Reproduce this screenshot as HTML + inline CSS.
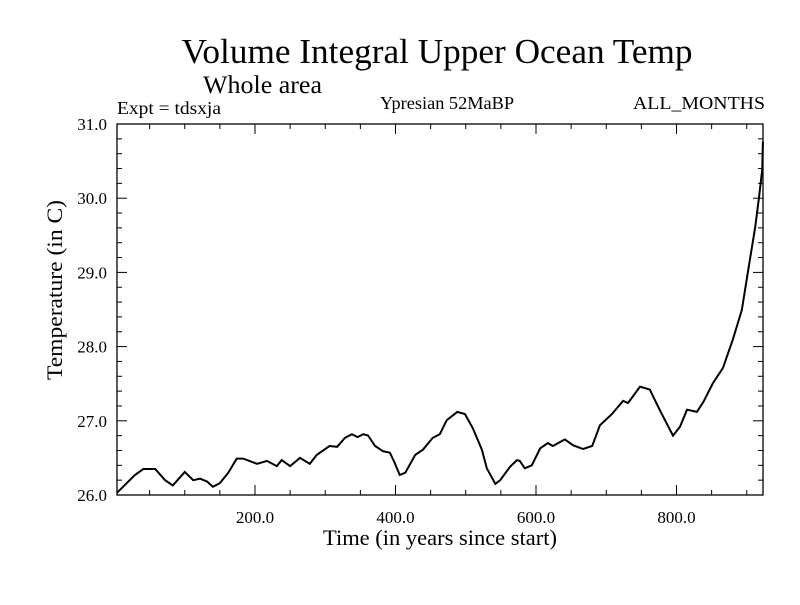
<!DOCTYPE html>
<html><head><meta charset="utf-8"><style>
html,body{margin:0;padding:0;background:#fff;}
svg text{font-family:"Liberation Serif",serif;fill:#000;}
</style></head><body>
<svg id="chart" width="800" height="600" xmlns="http://www.w3.org/2000/svg">
<text x="437" y="63" font-size="35" text-anchor="middle" textLength="511" lengthAdjust="spacingAndGlyphs">Volume Integral Upper Ocean Temp</text>
<text x="203" y="93" font-size="25" textLength="119" lengthAdjust="spacingAndGlyphs">Whole area</text>
<text x="117" y="114" font-size="18" textLength="104" lengthAdjust="spacingAndGlyphs">Expt = tdsxja</text>
<text x="380" y="109" font-size="18" textLength="134" lengthAdjust="spacingAndGlyphs">Ypresian  52MaBP</text>
<text x="633" y="109" font-size="18" textLength="132" lengthAdjust="spacingAndGlyphs">ALL_MONTHS</text>
<rect x="117" y="124" width="646" height="371" fill="none" stroke="#000" stroke-width="1.3"/>
<g id="ticks"></g>
<path id="line" fill="none" stroke="#000" stroke-width="2"/>
<text x="323" y="545" font-size="22" textLength="234" lengthAdjust="spacingAndGlyphs">Time (in years since start)</text>
<text transform="translate(62,380) rotate(-90)" font-size="22" textLength="180" lengthAdjust="spacingAndGlyphs">Temperature (in C)</text>
</svg>
<script>
const years=[3.6,29,41,58,72,83,100,112,122,132,140,150,162,174,183,203,217,231,238,250,264,278,288,306,317,328,338,346,354,361,371,382,392,399,406,414,428,439,453,463,473,488,499,510,523,530,537,542,549,563,573,577,584,594,606,617,624,641,653,667,680,691,708,724,731,748,762,776,795,805,815,829,838,852,866,880,893,902,912,917,922,923];
const temps=[26.03,26.27,26.35,26.35,26.20,26.13,26.31,26.20,26.22,26.18,26.11,26.16,26.30,26.49,26.49,26.42,26.46,26.39,26.47,26.39,26.50,26.42,26.54,26.66,26.65,26.77,26.82,26.78,26.82,26.80,26.66,26.59,26.57,26.43,26.27,26.30,26.54,26.61,26.77,26.82,27.01,27.12,27.09,26.90,26.61,26.36,26.24,26.15,26.20,26.38,26.47,26.46,26.36,26.40,26.63,26.70,26.66,26.75,26.67,26.62,26.66,26.94,27.09,27.27,27.24,27.46,27.42,27.15,26.80,26.92,27.15,27.12,27.25,27.51,27.71,28.09,28.49,29.03,29.61,29.98,30.38,30.76];
const xTickLabels=["200.0","400.0","600.0","800.0"];
const yTickLabels=["26.0","27.0","28.0","29.0","30.0","31.0"];
const X=v=>114.5+v*0.7025, Y=v=>495-(v-26)*74.2;
const NS="http://www.w3.org/2000/svg";
const line=document.getElementById('line');
line.setAttribute('d',years.map((y,i)=>(i?'L':'M')+X(y).toFixed(1)+','+Y(temps[i]).toFixed(1)).join(''));
const g=document.getElementById('ticks');
function ln(x1,y1,x2,y2,name){const l=document.createElementNS(NS,'line');l.setAttribute('x1',x1);l.setAttribute('y1',y1);l.setAttribute('x2',x2);l.setAttribute('y2',y2);l.setAttribute('stroke','#000');


g.appendChild(l);}
function tx(x,y,s,anchor,name){const t=document.createElementNS(NS,'text');t.setAttribute('x',x);t.setAttribute('y',y);t.setAttribute('font-size','17');t.setAttribute('text-anchor',anchor);t.textContent=s;


g.appendChild(t);}
for(let v=50;v<=900;v+=50){const x=X(v),maj=v%200===0,len=maj?10:5;ln(x,495,x,495-len,'x-tick');ln(x,124,x,124+len,'x-tick-top');}
xTickLabels.forEach(s=>tx(X(parseFloat(s)),523,s,'middle','x-tick-label'));
for(let v=26;v<=31.001;v+=0.2){const y=Y(v),maj=Math.abs(v-Math.round(v))<0.01,len=maj?10:5;ln(117,y,117+len,y,'y-tick');ln(763,y,763-len,y,'y-tick-right');}
yTickLabels.forEach(s=>tx(107,Y(parseFloat(s))+6,s,'end','y-tick-label'));
</script>
</body></html>
